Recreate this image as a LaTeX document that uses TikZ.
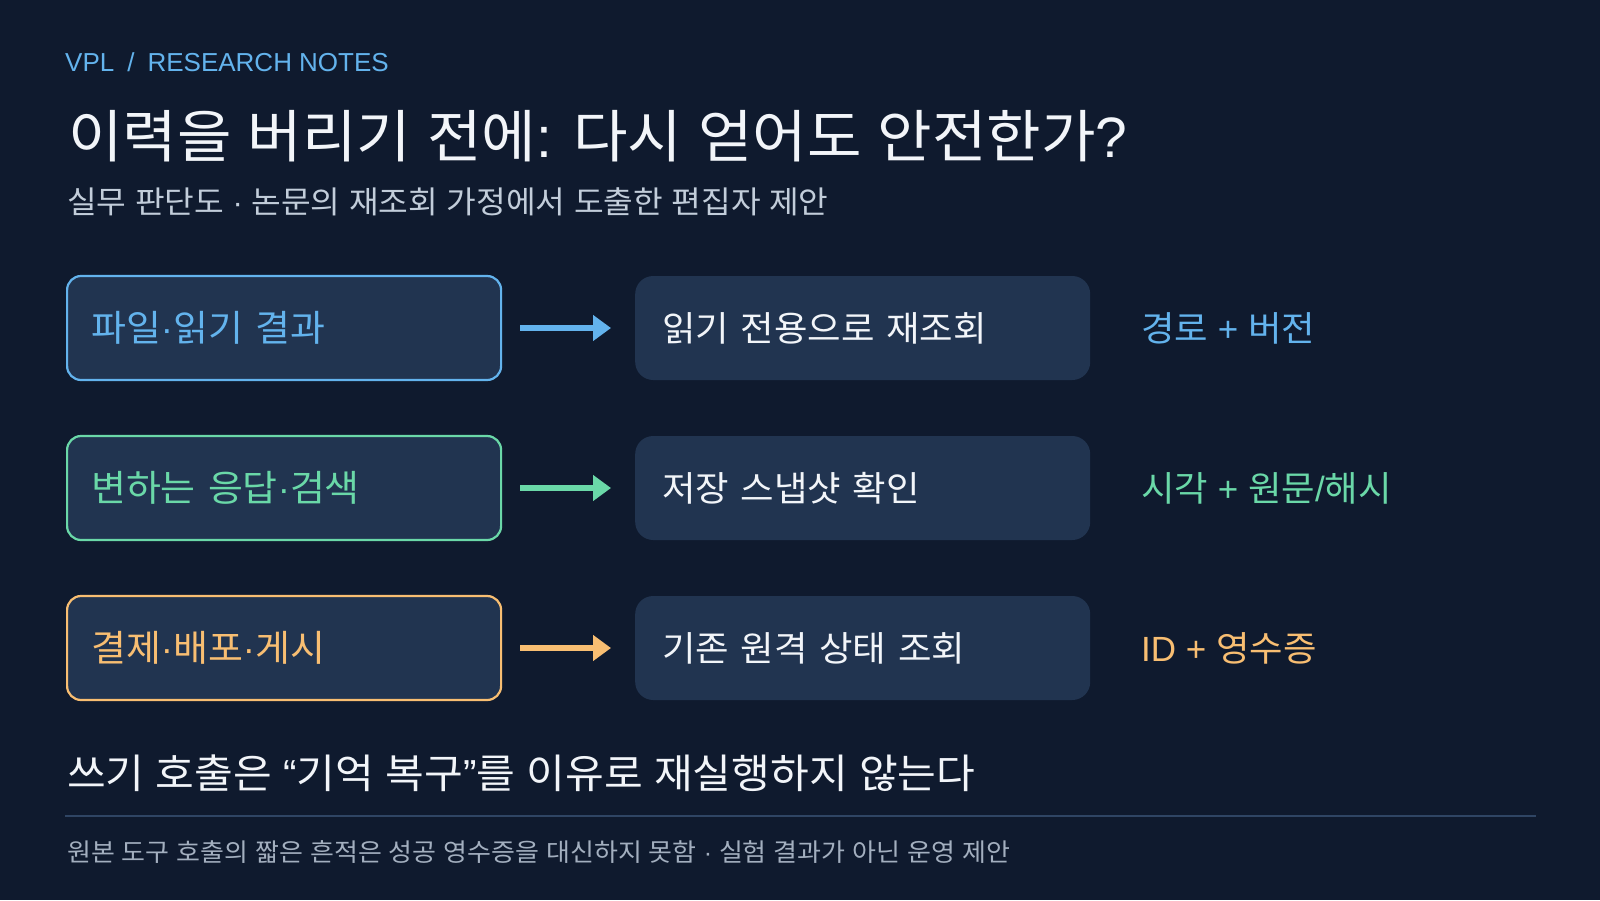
\documentclass[tikz,border=0pt]{standalone}
\usepackage{fontspec}
\setmainfont{Liberation Sans}
\newfontfamily\krfont[FakeStretch=1.04]{Noto Sans CJK KR}
\newcommand\K[1]{{\krfont#1}}
\usetikzlibrary{arrows.meta}
\definecolor{bg}{HTML}{0F1A2E}
\definecolor{boxfill}{HTML}{213450}
\definecolor{cblue}{HTML}{63B3ED}
\definecolor{cgreen}{HTML}{6AD8A8}
\definecolor{corange}{HTML}{F8BE72}
\definecolor{ctitle}{HTML}{F2F5F9}
\definecolor{csub}{HTML}{C2CDDA}
\definecolor{cfoot}{HTML}{A3AFBF}
\definecolor{cline}{HTML}{2F4564}
\tikzset{
  leftbox/.style={draw=#1, line width=2.2pt, fill=boxfill, rounded corners=14pt,
    minimum height=104pt, text width=386pt, inner xsep=24pt, align=left,
    text=#1, font=\fontsize{36.5}{40}\selectfont, anchor=west},
  midbox/.style={fill=boxfill, rounded corners=18pt,
    minimum height=104pt, text width=401pt, inner xsep=27pt, align=left,
    text=ctitle, font=\fontsize{35}{40}\selectfont, anchor=west},
  rlabel/.style={text=#1, font=\fontsize{35}{40}\selectfont, anchor=west, inner sep=0pt},
  flow/.style={draw=#1, line width=6pt, -{Triangle[length=18pt,width=25pt]},
    shorten <=18pt, shorten >=24pt},
  plain/.style={inner sep=0pt, anchor=base west}
}
\begin{document}
\begin{tikzpicture}[x=1pt,y=-1pt]
\fill[bg] (0,0) rectangle (1600,900);
\useasboundingbox (0,0) rectangle (1600,900);

\node[plain, text=cblue, font=\fontsize{26}{30}\selectfont] (crumb) at (65,71.5) {VPL\hspace{13pt}/\hspace{13pt}RESEARCH NOTES};
\node[plain, text=ctitle, font=\fontsize{57}{64}\selectfont] (title) at (68,157.5)
  {\K{이력을} \K{버리기} \K{전에}: \K{다시} \K{얻어도} \K{안전한가}?};
\node[plain, text=csub, font=\fontsize{31}{36}\selectfont] (sub) at (67,213.5)
  {\K{실무} \K{판단도} · \K{논문의} \K{재조회} \K{가정에서} \K{도출한} \K{편집자} \K{제안}};

\node[leftbox=cblue] (l1) at (66,328) {\K{파일}·\K{읽기} \K{결과}};
\node[leftbox=cgreen] (l2) at (66,488) {\K{변하는} \K{응답}·\K{검색}};
\node[leftbox=corange] (l3) at (66,648) {\K{결제}·\K{배포}·\K{게시}};

\node[midbox] (m1) at (635,328) {\K{읽기} \K{전용으로} \K{재조회}};
\node[midbox] (m2) at (635,488) {\K{저장} \K{스냅샷} \K{확인}};
\node[midbox] (m3) at (635,648) {\K{기존} \K{원격} \K{상태} \K{조회}};

\draw[flow=cblue] (l1.east) -- (m1.west);
\draw[flow=cgreen] (l2.east) -- (m2.west);
\draw[flow=corange] (l3.east) -- (m3.west);

\node[rlabel=cblue] (r1) at (1141,328) {\K{경로} + \K{버전}};
\node[rlabel=cgreen] (r2) at (1141,488) {\K{시각} + \K{원문}/\K{해시}};
\node[rlabel=corange] (r3) at (1141,648) {ID + \K{영수증}};

\node[plain, text=ctitle, font=\fontsize{40.5}{44}\selectfont] (head) at (67,788.5)
  {\K{쓰기} \K{호출은} “\K{기억} \K{복구}”\K{를} \K{이유로} \K{재실행하지} \K{않는다}};
\coordinate (la) at (65,816);
\coordinate (lb) at (1536,816);
\draw[cline, line width=2.2pt] (la) -- (lb);
\node[plain, text=cfoot, font=\fontsize{25}{28}\selectfont] (foot) at (67,861)
  {\K{원본} \K{도구} \K{호출의} \K{짧은} \K{흔적은} \K{성공} \K{영수증을} \K{대신하지} \K{못함} · \K{실험} \K{결과가} \K{아닌} \K{운영} \K{제안}};
\end{tikzpicture}
\end{document}
